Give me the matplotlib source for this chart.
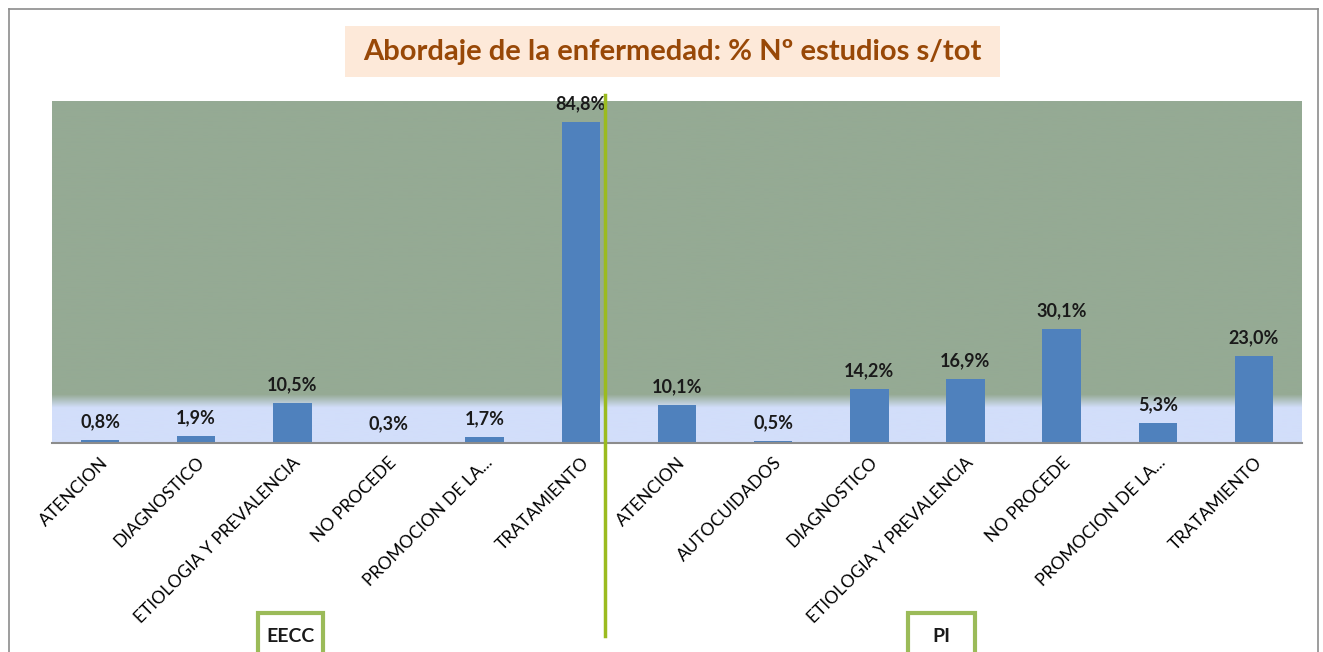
import numpy as np
import matplotlib
matplotlib.use("Agg")
import matplotlib.pyplot as plt
from matplotlib.lines import Line2D
from matplotlib.patches import Rectangle
from matplotlib.colors import LinearSegmentedColormap

plt.rcParams['font.family'] = ['Lato', 'DejaVu Sans']

title = "Abordaje de la enfermedad: % Nº estudios s/tot"
categories = ["ATENCION", "DIAGNOSTICO", "ETIOLOGIA Y PREVALENCIA", "NO PROCEDE",
              "PROMOCION DE LA...", "TRATAMIENTO",
              "ATENCION", "AUTOCUIDADOS", "DIAGNOSTICO", "ETIOLOGIA Y PREVALENCIA",
              "NO PROCEDE", "PROMOCION DE LA...", "TRATAMIENTO"]
values = [0.8, 1.9, 10.5, 0.3, 1.7, 84.8,
          10.1, 0.5, 14.2, 16.9, 30.1, 5.3, 23.0]
groups = ["EECC", "PI"]

W, H = 1323, 652
fig = plt.figure(figsize=(W / 100, H / 100), dpi=100)
ax = fig.add_axes([52 / W, 1 - 443 / H, 1250 / W, 342 / H])

# figure border
border = dict(transform=fig.transFigure, color="#8c8c8c", lw=1.2)
fig.add_artist(Line2D([9 / W, 9 / W], [0, 1 - 9 / H], **border))
fig.add_artist(Line2D([9 / W, 1318 / W], [1 - 9 / H, 1 - 9 / H], **border))
fig.add_artist(Line2D([1318 / W, 1318 / W], [0, 1 - 9 / H], **border))

# background gradient (green on top, light blue near the floor)
ymax = 90.3
cmap = LinearSegmentedColormap.from_list("bg", ["#D2DEFA", "#95AA94"])
yy = np.linspace(0, ymax, 600)
grad = np.interp(yy, [0, 9.3, 12.8, ymax], [0, 0, 1, 1])
ax.imshow(grad[:, None], aspect="auto", cmap=cmap, origin="lower",
          extent=[-0.5, len(values) - 0.5, 0, ymax], zorder=0, vmin=0, vmax=1)

x = np.arange(len(values))
ax.bar(x, values, width=0.4, color="#4F81BD", zorder=2)
for xi, v in zip(x, values):
    ax.annotate(f"{v:.1f}%".replace(".", ","), (xi, v), xytext=(0, 7), textcoords="offset points",
                ha="center", va="bottom", fontsize=13, fontweight="bold", color="#1a1a1a", zorder=3)

ax.set_xlim(-0.5, len(values) - 0.5)
ax.set_ylim(0, ymax)
ax.set_yticks([])
ax.set_xticks(x)
ax.set_xticklabels(categories, rotation=45, ha="right", rotation_mode="anchor", fontsize=12.5)
ax.tick_params(axis="x", length=0, pad=8)
for s in ["top", "left", "right"]:
    ax.spines[s].set_visible(False)
ax.spines["bottom"].set_color("#8c8c8c")
ax.spines["bottom"].set_linewidth(1.5)

# separator line between groups
ax.plot([5.25, 5.25], [-51, 91.8], color="#9BBB1F", lw=2.5, clip_on=False, zorder=4)

# group labels (boxes run off the bottom edge)
for (x0, x1), g in zip([(258, 323), (908, 975)], groups):
    fig.add_artist(Rectangle((x0 / W, -10 / H), (x1 - x0) / W, (H + 10 - 613) / H,
                             transform=fig.transFigure, fc="white", ec="#9BBB59", lw=3))
    fig.text((x0 + x1) / 2 / W, 1 - 636 / H, g, ha="center", va="center",
             fontsize=14, fontweight="bold", color="#1a1a1a")

# title
fig.add_artist(Rectangle((345 / W, 1 - 77 / H), 655 / W, 51 / H, transform=fig.transFigure,
                         fc="#FDE9D9", ec="none"))
fig.text((345 + 1000) / 2 / W, 1 - 52 / H, title, ha="center", va="center",
         fontsize=21, fontweight="bold", color="#984807")

fig.savefig("out.png", dpi=100)
